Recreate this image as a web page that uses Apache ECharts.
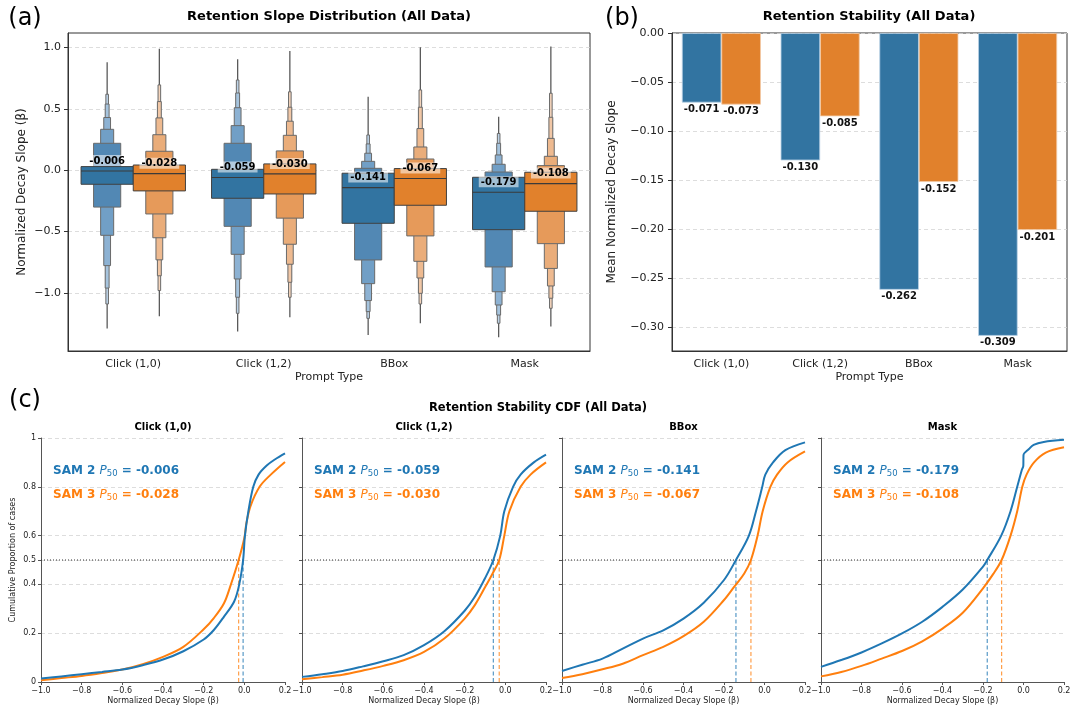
<!DOCTYPE html>
<html><head><meta charset="utf-8">
<script src="https://cdn.jsdelivr.net/npm/echarts@6/dist/echarts.min.js"></script>
<style>html,body{margin:0;padding:0;background:#fff}#c{width:1076px;height:713px}</style>
</head><body><div id="c"></div>
<script>
// ---------------- DATA ----------------
const categories = ['Click (1,0)', 'Click (1,2)', 'BBox', 'Mask'];
const seriesNames = ['SAM 2', 'SAM 3'];

// (a) letter-value (boxen) plot: medians, full range and nested levels [low, high]
const sam2Median = [-0.006, -0.059, -0.141, -0.179];
const sam3Median = [-0.028, -0.030, -0.067, -0.108];
const sam2Range = [[-1.29, 0.88], [-1.315, 0.905], [-1.342, 0.60], [-1.361, 0.437]];
const sam3Range = [[-1.19, 0.99], [-1.198, 0.973], [-1.247, 1.003], [-1.274, 1.008]];
const sam2Levels = [
  [[-0.114, 0.03], [-0.30, 0.22], [-0.53, 0.334], [-0.777, 0.43], [-0.96, 0.54], [-1.09, 0.62]],
  [[-0.228, 0.008], [-0.457, 0.22], [-0.685, 0.364], [-0.886, 0.51], [-1.035, 0.63], [-1.166, 0.736]],
  [[-0.432, -0.024], [-0.731, 0.016], [-0.924, 0.073], [-1.062, 0.139], [-1.152, 0.215], [-1.207, 0.288]],
  [[-0.484, -0.057], [-0.788, -0.014], [-0.99, 0.049], [-1.098, 0.125], [-1.18, 0.22], [-1.247, 0.30]]
];
const sam3Levels = [
  [[-0.168, 0.043], [-0.356, 0.155], [-0.55, 0.29], [-0.73, 0.427], [-0.86, 0.56], [-0.98, 0.696]],
  [[-0.193, 0.052], [-0.39, 0.158], [-0.603, 0.285], [-0.766, 0.40], [-0.913, 0.514], [-1.035, 0.64]],
  [[-0.285, 0.014], [-0.535, 0.092], [-0.742, 0.19], [-0.878, 0.34], [-1.003, 0.514], [-1.09, 0.655]],
  [[-0.334, -0.016], [-0.598, 0.038], [-0.80, 0.114], [-0.943, 0.26], [-1.043, 0.432], [-1.125, 0.628]]
];
const boxTicks = [-1, -0.5, 0, 0.5, 1];

// (b) mean normalized decay slope
const sam2Mean = [-0.071, -0.130, -0.262, -0.309];
const sam3Mean = [-0.073, -0.085, -0.152, -0.201];
const barTicks = [0, -0.05, -0.10, -0.15, -0.20, -0.25, -0.30];

// (c) CDF curves [beta, cumulative proportion]
const cdfClick10Sam2 = [[-1,0.014],[-0.9,0.023],[-0.8,0.032],[-0.7,0.041],[-0.6,0.051],[-0.5,0.069],[-0.4,0.092],[-0.3,0.126],[-0.2,0.174],[-0.15,0.213],[-0.1,0.268],[-0.05,0.33],[-0.025,0.40],[-0.006,0.5],[0.003,0.6],[0.02,0.7],[0.044,0.8],[0.07,0.85],[0.11,0.887],[0.15,0.912],[0.2,0.937]];
const cdfClick10Sam3 = [[-1,0.007],[-0.9,0.016],[-0.8,0.025],[-0.7,0.037],[-0.6,0.051],[-0.5,0.073],[-0.4,0.103],[-0.3,0.144],[-0.2,0.216],[-0.15,0.262],[-0.1,0.323],[-0.07,0.39],[-0.028,0.5],[0.0,0.59],[0.01,0.65],[0.03,0.72],[0.075,0.8],[0.13,0.85],[0.2,0.902]];
const cdfClick12Sam2 = [[-1,0.021],[-0.9,0.032],[-0.8,0.045],[-0.7,0.064],[-0.6,0.085],[-0.5,0.11],[-0.4,0.151],[-0.3,0.208],[-0.2,0.292],[-0.15,0.349],[-0.1,0.425],[-0.059,0.5],[-0.025,0.6],[-0.005,0.7],[0.038,0.8],[0.075,0.85],[0.14,0.9],[0.2,0.932]];
const cdfClick12Sam3 = [[-1,0.011],[-0.9,0.02],[-0.8,0.03],[-0.7,0.047],[-0.6,0.066],[-0.5,0.089],[-0.4,0.123],[-0.3,0.178],[-0.2,0.26],[-0.15,0.315],[-0.1,0.388],[-0.06,0.449],[-0.03,0.5],[-0.005,0.6],[0.02,0.7],[0.075,0.8],[0.124,0.85],[0.2,0.9]];
const cdfBBoxSam2 = [[-1,0.045],[-0.9,0.071],[-0.8,0.096],[-0.7,0.137],[-0.6,0.178],[-0.5,0.212],[-0.4,0.26],[-0.3,0.325],[-0.2,0.418],[-0.141,0.5],[-0.077,0.6],[-0.042,0.7],[-0.011,0.8],[0.004,0.85],[0.042,0.9],[0.103,0.95],[0.2,0.982]];
const cdfBBoxSam3 = [[-1,0.016],[-0.9,0.032],[-0.8,0.052],[-0.7,0.075],[-0.6,0.11],[-0.5,0.144],[-0.4,0.188],[-0.3,0.247],[-0.2,0.336],[-0.15,0.39],[-0.1,0.445],[-0.067,0.5],[-0.034,0.6],[-0.009,0.7],[0.029,0.8],[0.062,0.85],[0.114,0.9],[0.2,0.945]];
const cdfMaskSam2 = [[-1,0.062],[-0.9,0.09],[-0.8,0.121],[-0.7,0.158],[-0.6,0.199],[-0.5,0.247],[-0.4,0.308],[-0.3,0.379],[-0.2,0.473],[-0.179,0.5],[-0.11,0.6],[-0.064,0.7],[-0.031,0.8],[-0.008,0.87],[-0.001,0.885],[0.0,0.93],[0.027,0.955],[0.05,0.972],[0.1,0.984],[0.2,0.993]];
const cdfMaskSam3 = [[-1,0.023],[-0.9,0.041],[-0.8,0.066],[-0.7,0.096],[-0.6,0.127],[-0.5,0.167],[-0.4,0.219],[-0.3,0.284],[-0.2,0.384],[-0.15,0.442],[-0.108,0.5],[-0.064,0.6],[-0.031,0.7],[-0.006,0.8],[0.015,0.85],[0.052,0.9],[0.11,0.94],[0.2,0.962]];
const cdfTicksY = [0, 0.2, 0.4, 0.5, 0.6, 0.8, 1];

// ---------------- STYLE ----------------
const F = 'DejaVu Sans';
const BLUE = '#3274a1', ORANGE = '#e1812c';
const LINE_BLUE = '#1f77b4', LINE_ORANGE = '#ff7f0e';
const blueLevelColors = ['#3274a1', '#5288b4', '#719fc6', '#8db2d3', '#a6c4de', '#bdd3e7'];
const orangeLevelColors = ['#e1812c', '#e69a5a', '#eaad7a', '#eeba90', '#f1c7a6', '#f4d4bb'];
const levelWidth = [1, 0.52, 0.25, 0.13, 0.075, 0.05];
const GRID_COL = '#d4d4d4';
const minus = s => s.replace('-', '\u2212');

const cdfPanels = [
  {name: categories[0], s2: cdfClick10Sam2, s3: cdfClick10Sam3, m2: sam2Median[0], m3: sam3Median[0]},
  {name: categories[1], s2: cdfClick12Sam2, s3: cdfClick12Sam3, m2: sam2Median[1], m3: sam3Median[1]},
  {name: categories[2], s2: cdfBBoxSam2, s3: cdfBBoxSam3, m2: sam2Median[2], m3: sam3Median[2]},
  {name: categories[3], s2: cdfMaskSam2, s3: cdfMaskSam3, m2: sam2Median[3], m3: sam3Median[3]}
];
const cdfGrids = [{left: 41, width: 244}, {left: 302, width: 244}, {left: 562, width: 243}, {left: 821, width: 243}];
const CDF_TOP = 438, CDF_H = 244;

// ---------------- BOXEN ----------------
function boxenData(medians, ranges, levels) {
  return categories.map((c, i) => {
    const row = [i, medians[i], ranges[i][0], ranges[i][1]];
    levels[i].forEach(l => { row.push(l[0], l[1]); });
    return row;
  });
}
function boxenRender(colors, side) {
  return function (params, api) {
    const cat = api.value(0);
    const band = api.size([1, 0])[0];
    const boxW = band * 0.4;
    const cx = api.coord([cat, 0])[0] + side * band * 0.2;
    const children = [];
    const pMin = api.coord([cat, api.value(2)]), pMax = api.coord([cat, api.value(3)]);
    children.push({type: 'line', shape: {x1: cx, y1: pMin[1], x2: cx, y2: pMax[1]},
      style: {stroke: '#5a5a5a', lineWidth: 1.3}});
    for (let k = 5; k >= 0; k--) {
      const lo = api.coord([cat, api.value(4 + 2 * k)])[1];
      const hi = api.coord([cat, api.value(5 + 2 * k)])[1];
      const w = boxW * levelWidth[k];
      children.push({type: 'rect', shape: {x: cx - w / 2, y: hi, width: w, height: lo - hi},
        style: {fill: colors[k], stroke: k === 0 ? '#404040' : '#6a6a6a', lineWidth: 1}});
    }
    const ym = api.coord([cat, api.value(1)])[1];
    children.push({type: 'line', shape: {x1: cx - boxW / 2, y1: ym, x2: cx + boxW / 2, y2: ym},
      style: {stroke: '#3a3a3a', lineWidth: 1.2}});
    children.push({type: 'text', style: {x: cx, y: ym - 5, text: api.value(1).toFixed(3),
      fontFamily: F, fontSize: 10, fontWeight: 'bold', fill: '#000', align: 'center', verticalAlign: 'bottom',
      backgroundColor: 'rgba(255,255,255,0.55)', padding: [1, 2, 0, 2]}});
    return {type: 'group', children};
  };
}

// ---------------- OPTION ----------------
const axisLineDark = {show: true, onZero: false, lineStyle: {color: '#333', width: 1}};
const grids = [
  {left: 68, top: 33, width: 522, height: 318, show: true, borderColor: '#333', borderWidth: 1},
  {left: 672, top: 33, width: 395, height: 318, show: true, borderColor: '#333', borderWidth: 1}
].concat(cdfGrids.map(g => ({left: g.left, top: CDF_TOP, width: g.width, height: CDF_H})));

const xAxes = [0, 1].map(gi => ({
  type: 'category', gridIndex: gi, data: categories, boundaryGap: true,
  axisLine: axisLineDark, axisTick: {alignWithLabel: true, length: 4, lineStyle: {color: '#333'}},
  axisLabel: {fontFamily: F, fontSize: 11, color: '#222', margin: 8},
  name: 'Prompt Type', nameLocation: 'middle', nameGap: 21,
  nameTextStyle: {fontFamily: F, fontSize: 11, color: '#222'}
})).concat(cdfGrids.map((g, i) => ({
  type: 'value', gridIndex: 2 + i, min: -1, max: 0.2, interval: 0.2,
  axisLine: {show: true, onZero: false, lineStyle: {color: '#555'}},
  axisTick: {show: true, length: 3, lineStyle: {color: '#555'}},
  splitLine: {show: false},
  axisLabel: {fontFamily: F, fontSize: 8, color: '#222', margin: 5, showMinLabel: true, showMaxLabel: true,
    formatter: v => minus(v.toFixed(1))},
  name: 'Normalized Decay Slope (\u03b2)', nameLocation: 'middle', nameGap: 15,
  nameTextStyle: {fontFamily: F, fontSize: 8, color: '#222'}
})));

const yAxes = [
  {type: 'value', gridIndex: 0, min: -1.473, max: 1.119,
    axisLine: axisLineDark, axisTick: {show: true, length: 4, customValues: boxTicks, lineStyle: {color: '#333'}},
    axisLabel: {fontFamily: F, fontSize: 11, color: '#222', margin: 7, customValues: boxTicks,
      formatter: v => minus(v.toFixed(1))},
    splitLine: {show: true, lineStyle: {color: GRID_COL, type: [4, 3], width: 0.8}},
    name: 'Normalized Decay Slope (\u03b2)', nameLocation: 'middle', nameGap: 40,
    nameTextStyle: {fontFamily: F, fontSize: 12, color: '#222'}},
  {type: 'value', gridIndex: 1, min: -0.3245, max: 0,
    axisLine: axisLineDark, axisTick: {show: true, length: 4, customValues: barTicks, lineStyle: {color: '#333'}},
    axisLabel: {fontFamily: F, fontSize: 11, color: '#222', margin: 8, customValues: barTicks,
      formatter: v => minus(v.toFixed(2))},
    splitLine: {show: true, lineStyle: {color: GRID_COL, type: [4, 3], width: 0.8}},
    name: 'Mean Normalized Decay Slope', nameLocation: 'middle', nameGap: 54,
    nameTextStyle: {fontFamily: F, fontSize: 12, color: '#222'}}
].concat(cdfGrids.map((g, i) => ({
  type: 'value', gridIndex: 2 + i, min: 0, max: 1,
  axisLine: {show: true, onZero: false, lineStyle: {color: '#555'}},
  axisTick: {show: true, length: 3, customValues: cdfTicksY, lineStyle: {color: '#555'}},
  axisLabel: {show: i === 0, fontFamily: F, fontSize: 8, color: '#222', margin: 5, customValues: cdfTicksY,
    formatter: v => (v === 0 ? '0' : v === 1 ? '1' : v.toFixed(1))},
  splitLine: {show: true, lineStyle: {color: GRID_COL, type: [4, 3], width: 0.8}},
  name: i === 0 ? 'Cumulative Proportion of cases' : '', nameLocation: 'middle', nameGap: 24,
  nameTextStyle: {fontFamily: F, fontSize: 8, color: '#222'}
})));

const series = [
  {type: 'custom', name: seriesNames[0], xAxisIndex: 0, yAxisIndex: 0, renderItem: boxenRender(blueLevelColors, -1),
    data: boxenData(sam2Median, sam2Range, sam2Levels), z: 3},
  {type: 'custom', name: seriesNames[1], xAxisIndex: 0, yAxisIndex: 0, renderItem: boxenRender(orangeLevelColors, 1),
    data: boxenData(sam3Median, sam3Range, sam3Levels), z: 3},
  {type: 'bar', name: seriesNames[0], xAxisIndex: 1, yAxisIndex: 1, data: sam2Mean, barGap: '0%', barCategoryGap: '20%',
    itemStyle: {color: BLUE, borderColor: '#b9d0e4', borderWidth: 0.8},
    label: {show: true, position: 'bottom', distance: 2, formatter: p => p.value.toFixed(3),
      fontFamily: F, fontSize: 10, fontWeight: 'bold', color: '#111'}},
  {type: 'bar', name: seriesNames[1], xAxisIndex: 1, yAxisIndex: 1, data: sam3Mean, barGap: '0%', barCategoryGap: '20%',
    itemStyle: {color: ORANGE, borderColor: '#f2c9a4', borderWidth: 0.8},
    label: {show: true, position: 'bottom', distance: 2, formatter: p => p.value.toFixed(3),
      fontFamily: F, fontSize: 10, fontWeight: 'bold', color: '#111'}}
];

cdfPanels.forEach((p, i) => {
  const ax = {xAxisIndex: 2 + i, yAxisIndex: 2 + i, symbol: 'none', silent: true, animation: false};
  series.push(Object.assign({type: 'line', data: [[-1, 0.5], [Math.max(p.m2, p.m3), 0.5]],
    lineStyle: {color: '#333', width: 1, type: [1, 2]}, z: 2}, ax));
  series.push(Object.assign({type: 'line', data: [[p.m2, 0], [p.m2, 0.5]],
    lineStyle: {color: LINE_BLUE, opacity: 0.75, width: 1.2, type: [4, 2.5]}, z: 2}, ax));
  series.push(Object.assign({type: 'line', data: [[p.m3, 0], [p.m3, 0.5]],
    lineStyle: {color: LINE_ORANGE, opacity: 0.75, width: 1.2, type: [4, 2.5]}, z: 2}, ax));
  series.push(Object.assign({type: 'line', name: seriesNames[1], data: p.s3, smooth: 0.35,
    lineStyle: {color: LINE_ORANGE, width: 2}, z: 4}, ax));
  series.push(Object.assign({type: 'line', name: seriesNames[0], data: p.s2, smooth: 0.35,
    lineStyle: {color: LINE_BLUE, width: 2}, z: 5}, ax));
});

// ---------------- TEXT ----------------
function txt(x, y, text, size, weight, extra) {
  return {type: 'text', x: 0, y: 0, z: 100, silent: true,
    style: Object.assign({x, y, text, fontFamily: F, fontSize: size, fontWeight: weight || 'normal',
      fill: '#000', align: 'center', verticalAlign: 'middle'}, extra || {})};
}
function annot(x, y, label, val, color) {
  const base = {fontFamily: F, fontSize: 12, fill: color, color, lineHeight: 16};
  return {type: 'text', z: 100, silent: true, style: {
    x, y, align: 'left', verticalAlign: 'middle', fill: color,
    text: '{b|' + label + ' }{i|P}{s|50}{b| = ' + val.toFixed(3) + '}',
    rich: {
      b: Object.assign({fontWeight: 'bold'}, base),
      i: Object.assign({fontStyle: 'italic'}, base),
      s: {fontFamily: F, fontSize: 8.5, fill: color, color, lineHeight: 16, padding: [6, 0, 0, 0]}
    }}};
}
const graphics = [
  txt(25, 19, '(a)', 24, 'normal'),
  txt(622, 19, '(b)', 24, 'normal'),
  txt(25, 401, '(c)', 24, 'normal'),
  txt(329, 17, 'Retention Slope Distribution (All Data)', 13, 'bold'),
  txt(869, 17, 'Retention Stability (All Data)', 13, 'bold'),
  txt(538, 408, 'Retention Stability CDF (All Data)', 11.5, 'bold')
];
cdfPanels.forEach((p, i) => {
  const g = cdfGrids[i];
  graphics.push(txt(g.left + g.width / 2, 427, p.name, 10, 'bold'));
  graphics.push(annot(g.left + 12, 471, seriesNames[0], p.m2, LINE_BLUE));
  graphics.push(annot(g.left + 12, 495, seriesNames[1], p.m3, LINE_ORANGE));
});

const chart = echarts.init(document.getElementById('c'), null, {renderer: 'canvas'});
chart.setOption({
  animation: false, backgroundColor: '#fff',
  grid: grids, xAxis: xAxes, yAxis: yAxes, series, graphic: graphics
});
</script></body></html>
